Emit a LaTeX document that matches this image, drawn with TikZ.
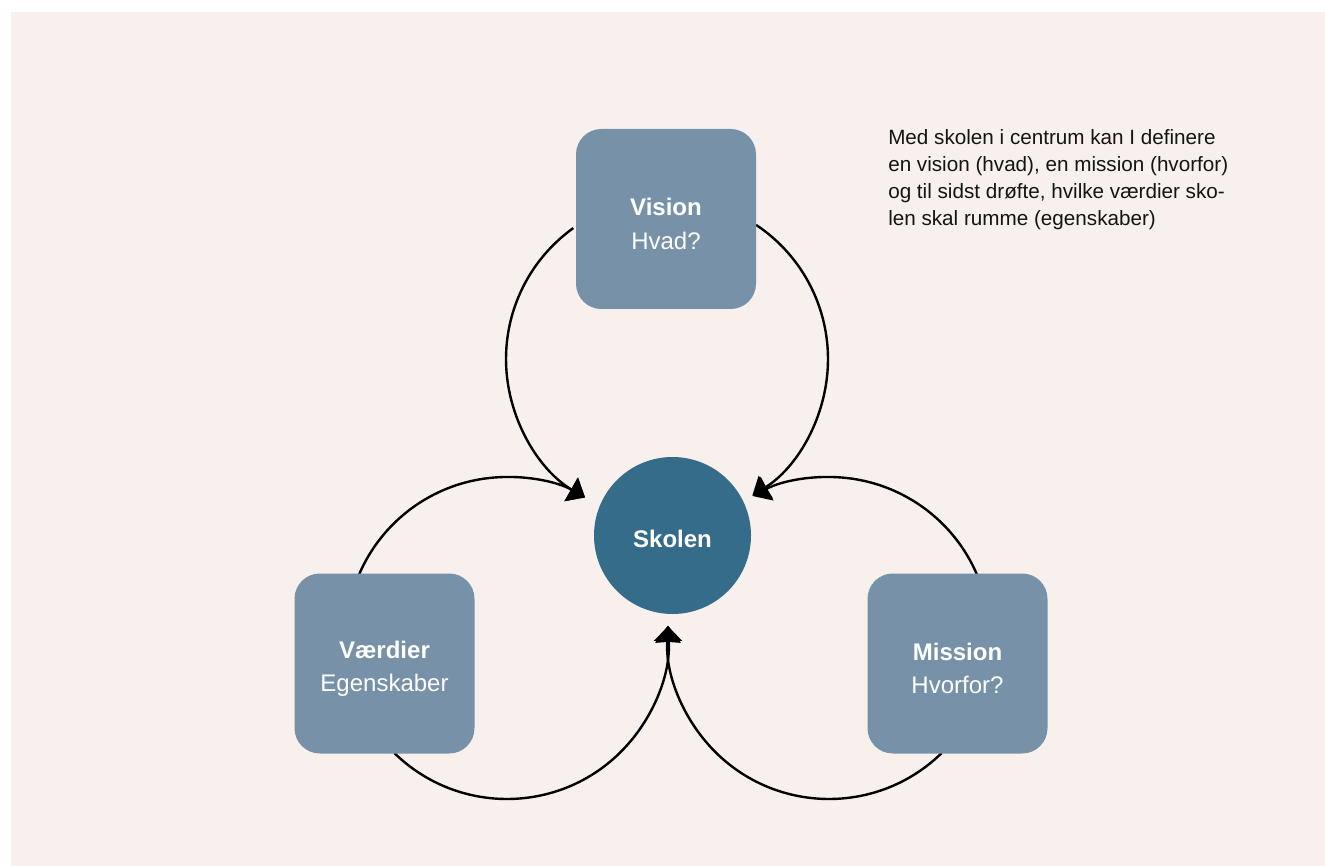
\documentclass[tikz,border=0pt]{standalone}
\usepackage{fontspec}
\setmainfont{Liberation Sans}
\usetikzlibrary{arrows.meta}
\definecolor{bg}{RGB}{248,240,237}
\definecolor{boxc}{RGB}{119,146,168}
\definecolor{hub}{RGB}{53,108,138}
\definecolor{ink}{RGB}{20,20,20}
\begin{document}
\begin{tikzpicture}[x=0.75pt,y=-0.75pt,
  card/.style={fill=boxc, rounded corners=19pt, minimum width=135pt, minimum height=135pt, inner sep=0pt},
  cardtext/.style={inner sep=0pt, text=white, align=center, font=\fontsize{18}{25}\selectfont},
  hubnode/.style={circle, fill=hub, minimum size=117.75pt, inner sep=0pt},
  hubtext/.style={inner sep=0pt, text=white, font=\fontsize{18}{22}\selectfont\bfseries},
  flow/.style={line width=1.8pt, -{Triangle[length=12pt,width=20pt]}},
  note/.style={anchor=north west, inner sep=0pt, align=left, text=ink, font=\fontsize{15.5}{20.25}\selectfont}
  ]
\useasboundingbox (0,0) rectangle (1325,866);
\fill[bg] (11,12) rectangle (1325,866);
\coordinate (T) at (667,359);
\coordinate (L) at (507,638);
\coordinate (R) at (829,638);
% arcs
\draw[flow] (T) ++(234.4:161) arc[start angle=234.4, end angle=120.6, radius=161];
\draw[flow] (T) ++(-56.4:161) arc[start angle=-56.4, end angle=58, radius=161];
\draw[flow] (L) ++(203.4:161) arc[start angle=203.4, end angle=299, radius=161];
\draw[flow] (L) ++(134.4:161) arc[start angle=134.4, end angle=-4.3, radius=161];
\draw[flow] (R) ++(336.6:161) arc[start angle=336.6, end angle=241.8, radius=161];
\draw[flow] (R) ++(45.6:161) arc[start angle=45.6, end angle=184.3, radius=161];
% nodes
\node[card] (vision) at (666,219) {};
\node[card] (vaerdier) at (384.5,663.5) {};
\node[card] (mission) at (957.5,663.5) {};
\node[cardtext] (visiontxt) at (666,224) {\textbf{Vision}\\Hvad?};
\node[cardtext] (vaerdiertxt) at (384.5,668.5) {\textbf{Værdier}\\Egenskaber};
\node[cardtext] (missiontxt) at (957.5,668.5) {\textbf{Mission}\\Hvorfor?};
\node[hubnode] (skolen) at (672.5,535.5) {};
\node[hubtext] (skolentxt) at (672.5,539) {Skolen};
\node[note] (text) at (888,129) {Med skolen i centrum kan I definere\\en vision (hvad), en mission (hvorfor)\\og til sidst drøfte, hvilke værdier sko-\\len skal rumme (egenskaber)};
\end{tikzpicture}
\end{document}
